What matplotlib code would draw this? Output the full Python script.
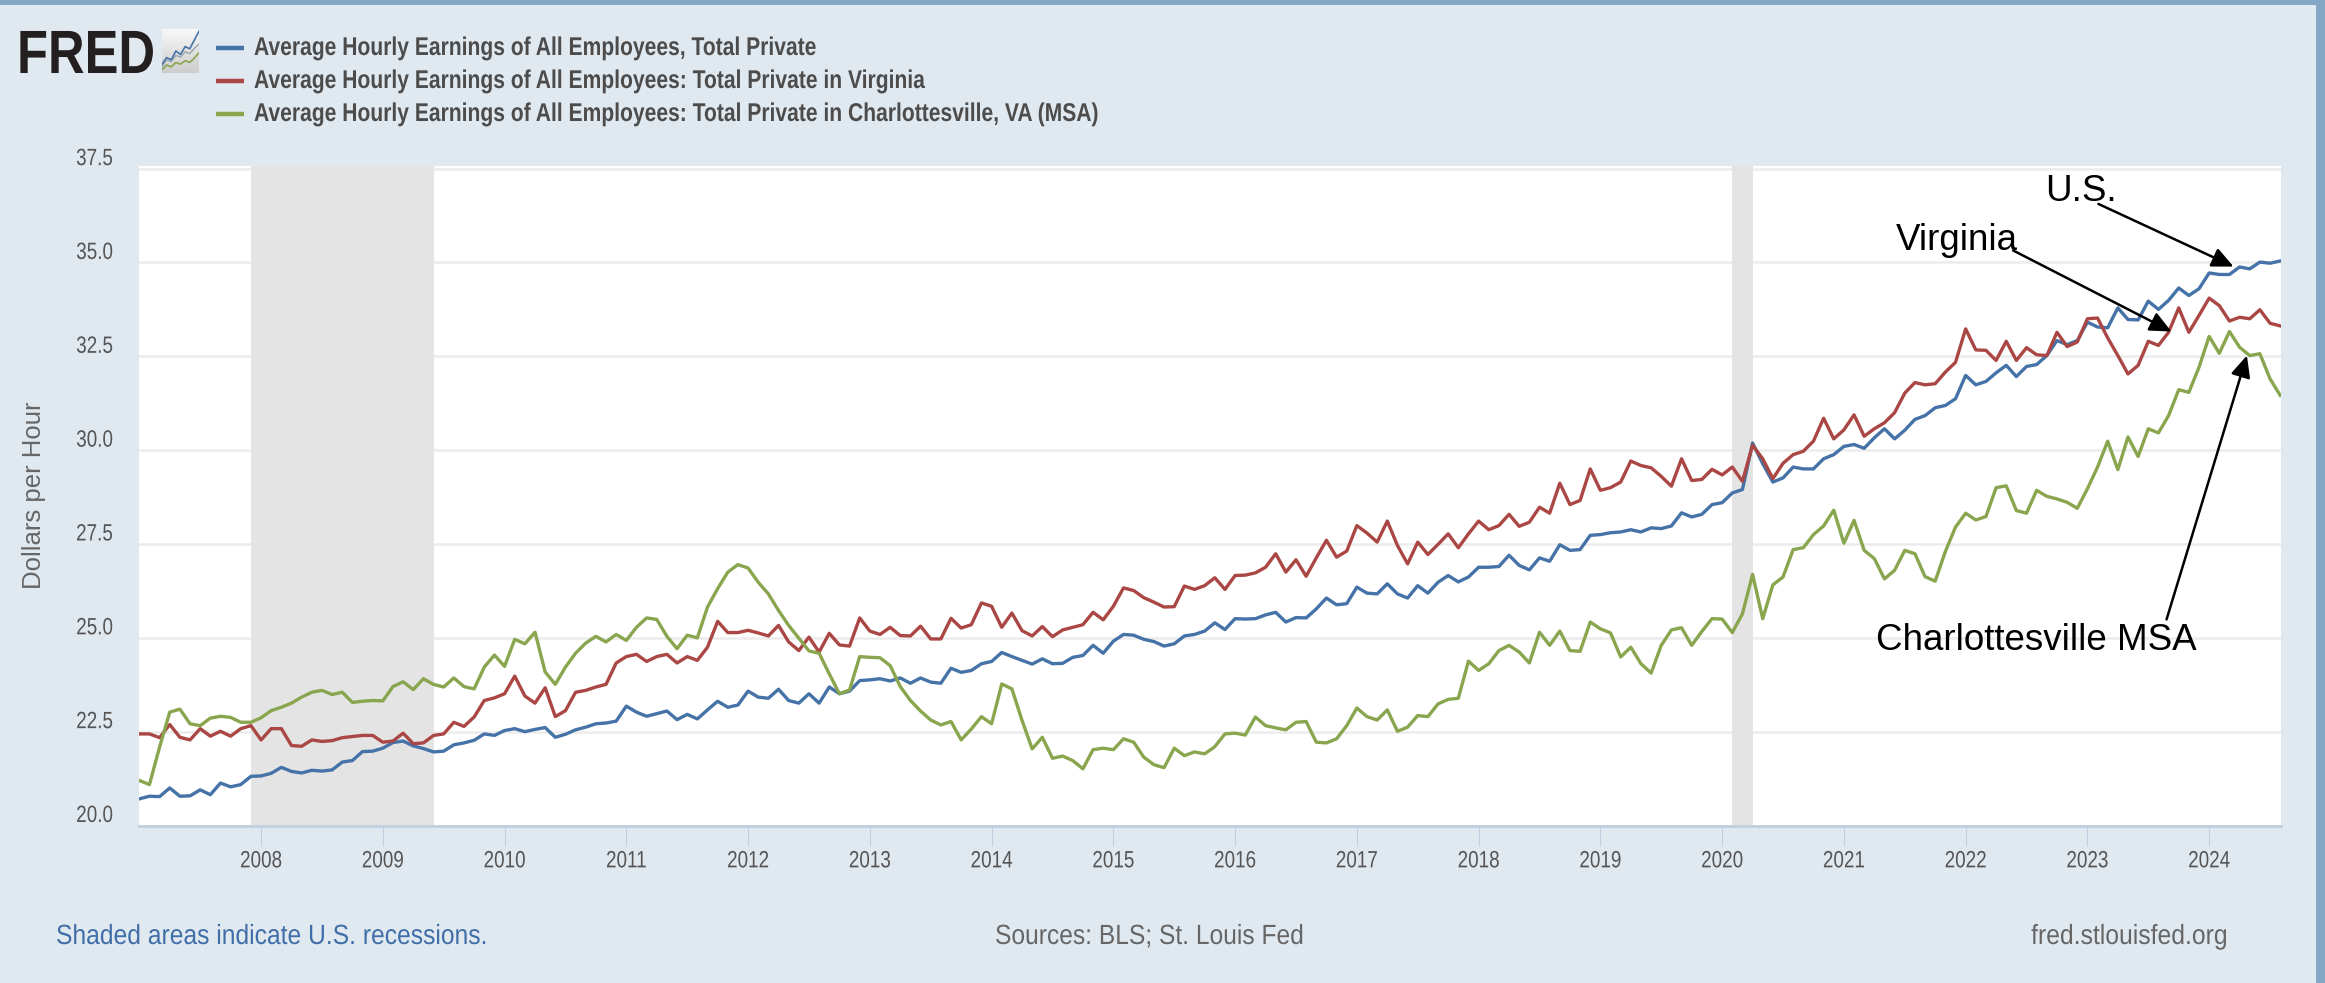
"""FRED chart: average hourly earnings, U.S. / Virginia / Charlottesville MSA."""

import numpy as np
import matplotlib
matplotlib.use("Agg")
import matplotlib.pyplot as plt
import matplotlib.patches as mpatches
from matplotlib.patheffects import AbstractPathEffect
from matplotlib.transforms import Affine2D, ScaledTranslation

# ── Data ──────────────────────────────────────────────────────────────────────
us_total = [
    20.71, 20.78, 20.77, 21.0, 20.78, 20.79, 20.95, 20.82, 21.13, 21.03, 21.09, 21.31,
    21.32, 21.39, 21.55, 21.44, 21.4, 21.47, 21.45, 21.48, 21.69, 21.73, 21.97, 21.98,
    22.06, 22.21, 22.25, 22.12, 22.05, 21.96, 21.98, 22.15, 22.2, 22.27, 22.44, 22.4,
    22.53, 22.58, 22.5, 22.56, 22.61, 22.35, 22.43, 22.55, 22.62, 22.71, 22.73, 22.78,
    23.18, 23.02, 22.91, 22.98, 23.05, 22.82, 22.96, 22.84, 23.08, 23.31, 23.15, 23.21,
    23.58, 23.42, 23.39, 23.63, 23.33, 23.26, 23.51, 23.26, 23.69, 23.51, 23.58, 23.86,
    23.88, 23.91, 23.85, 23.93, 23.79, 23.93, 23.82, 23.79, 24.19, 24.08, 24.13, 24.31,
    24.37, 24.61, 24.5, 24.4, 24.3, 24.44, 24.31, 24.32, 24.48, 24.53, 24.8, 24.59,
    24.91, 25.09, 25.07, 24.96, 24.9, 24.78, 24.84, 25.05, 25.09, 25.18, 25.4, 25.22,
    25.51, 25.5, 25.51, 25.61, 25.68, 25.42, 25.54, 25.53, 25.77, 26.06, 25.88, 25.91,
    26.35, 26.19, 26.17, 26.44, 26.17, 26.06, 26.39, 26.19, 26.48, 26.66, 26.49, 26.62,
    26.88, 26.88, 26.9, 27.2, 26.93, 26.81, 27.13, 27.04, 27.48, 27.33, 27.35, 27.73,
    27.75, 27.8, 27.82, 27.88, 27.82, 27.93, 27.91, 27.98, 28.33, 28.22, 28.29, 28.55,
    28.6, 28.86, 28.95, 30.19, 29.64, 29.15, 29.26, 29.55, 29.5, 29.5, 29.77, 29.88,
    30.1, 30.15, 30.05, 30.33, 30.57, 30.3, 30.53, 30.82, 30.92, 31.13, 31.19, 31.37,
    31.99, 31.74, 31.83, 32.06, 32.26, 31.96, 32.23, 32.28, 32.52, 32.92, 32.81, 32.92,
    33.41, 33.28, 33.26, 33.79, 33.48, 33.47, 33.97, 33.75, 33.99, 34.32, 34.12, 34.3,
    34.72, 34.68, 34.68, 34.88, 34.83, 35.01, 34.98, 35.04,
]
virginia = [
    22.44, 22.44, 22.34, 22.69, 22.35, 22.28, 22.58, 22.38, 22.51, 22.38, 22.58, 22.66,
    22.28, 22.58, 22.58, 22.13, 22.11, 22.28, 22.24, 22.26, 22.34, 22.37, 22.4, 22.4,
    22.22, 22.25, 22.46, 22.18, 22.2, 22.4, 22.44, 22.75, 22.64, 22.89, 23.33, 23.4,
    23.51, 23.98, 23.45, 23.26, 23.67, 22.9, 23.06, 23.55, 23.6, 23.69, 23.76, 24.33,
    24.5, 24.56, 24.37, 24.5, 24.56, 24.33, 24.5, 24.4, 24.75, 25.44, 25.14, 25.14,
    25.2, 25.13, 25.05, 25.33, 24.89, 24.66, 25.02, 24.62, 25.12, 24.81, 24.78, 25.53,
    25.18, 25.09, 25.28, 25.06, 25.05, 25.31, 24.97, 24.97, 25.52, 25.26, 25.35, 25.93,
    25.84, 25.28, 25.66, 25.19, 25.05, 25.3, 25.03, 25.21, 25.28, 25.35, 25.68, 25.48,
    25.84, 26.33, 26.26, 26.07, 25.95, 25.82, 25.83, 26.38, 26.29, 26.39, 26.6, 26.29,
    26.66, 26.67, 26.73, 26.88, 27.24, 26.75, 27.08, 26.64, 27.13, 27.6, 27.15, 27.31,
    27.99, 27.79, 27.55, 28.11, 27.46, 26.97, 27.55, 27.22, 27.49, 27.77, 27.4, 27.77,
    28.11, 27.88, 27.99, 28.29, 27.97, 28.08, 28.48, 28.32, 29.12, 28.55, 28.66, 29.5,
    28.93, 29.0, 29.15, 29.71, 29.59, 29.53, 29.3, 29.04, 29.77, 29.19, 29.22, 29.49,
    29.34, 29.55, 29.17, 30.13, 29.77, 29.24, 29.65, 29.88, 29.97, 30.24, 30.85, 30.3,
    30.54, 30.94, 30.37, 30.57, 30.73, 31.0, 31.52, 31.8, 31.74, 31.77, 32.08, 32.34,
    33.23, 32.67, 32.66, 32.39, 32.9, 32.39, 32.73, 32.54, 32.52, 33.14, 32.76, 32.88,
    33.5, 33.52, 32.99, 32.52, 32.03, 32.26, 32.9, 32.79, 33.14, 33.79, 33.14, 33.59,
    34.05, 33.85, 33.44, 33.54, 33.5, 33.74, 33.38, 33.31,
]
charlottesville = [
    21.2, 21.09, 22.09, 23.02, 23.1, 22.71, 22.66, 22.86, 22.91, 22.88, 22.75, 22.75,
    22.87, 23.06, 23.15, 23.26, 23.42, 23.55, 23.6, 23.49, 23.55, 23.28, 23.31, 23.33,
    23.32, 23.7, 23.83, 23.62, 23.91, 23.76, 23.69, 23.93, 23.7, 23.64, 24.22, 24.54,
    24.24, 24.96, 24.84, 25.15, 24.09, 23.76, 24.22, 24.59, 24.86, 25.04, 24.89, 25.09,
    24.93, 25.28, 25.53, 25.49, 25.04, 24.71, 25.07, 25.0, 25.82, 26.31, 26.75, 26.95,
    26.86, 26.48, 26.17, 25.73, 25.33, 24.99, 24.65, 24.59, 24.04, 23.51, 23.61, 24.5,
    24.48, 24.47, 24.26, 23.7, 23.33, 23.05, 22.81, 22.68, 22.77, 22.28, 22.57, 22.9,
    22.71, 23.77, 23.64, 22.8, 22.04, 22.35, 21.79, 21.85, 21.73, 21.51, 22.02, 22.06,
    22.02, 22.31, 22.22, 21.82, 21.62, 21.54, 22.06, 21.86, 21.96, 21.91, 22.1, 22.44,
    22.46, 22.41, 22.89, 22.66, 22.6, 22.55, 22.75, 22.77, 22.22, 22.2, 22.31, 22.66,
    23.13, 22.9, 22.81, 23.08, 22.51, 22.62, 22.93, 22.9, 23.24, 23.36, 23.39, 24.38,
    24.13, 24.31, 24.66, 24.8, 24.62, 24.33, 25.15, 24.8, 25.18, 24.66, 24.64, 25.42,
    25.24, 25.13, 24.49, 24.75, 24.31, 24.06, 24.8, 25.21, 25.27, 24.8, 25.17, 25.51,
    25.5, 25.14, 25.64, 26.69, 25.51, 26.41, 26.62, 27.35, 27.4, 27.75, 27.98, 28.4,
    27.52, 28.13, 27.33, 27.11, 26.57, 26.8, 27.33, 27.24, 26.63, 26.51, 27.3, 27.95,
    28.32, 28.14, 28.23, 29.0, 29.05, 28.39, 28.32, 28.93, 28.77, 28.7, 28.61, 28.45,
    28.97, 29.55, 30.24, 29.48, 30.35, 29.83, 30.57, 30.46, 30.92, 31.61, 31.54, 32.21,
    33.03, 32.58, 33.16, 32.74, 32.52, 32.57, 31.9, 31.46,
]
legend_labels = [
    "Average Hourly Earnings of All Employees, Total Private",
    "Average Hourly Earnings of All Employees: Total Private in Virginia",
    "Average Hourly Earnings of All Employees: Total Private in Charlottesville, VA (MSA)",
]
recessions = [(2007.92, 2009.42), (2020.08, 2020.25)]
year_ticks = list(range(2008, 2025))
dollar_ticks = [20.0, 22.5, 25.0, 27.5, 30.0, 32.5, 35.0, 37.5]

# callouts: text, text position, arrow start, arrow tip (year, dollars)
callouts = [
    ("U.S.", (2022.65, 36.63), (2023.09, 36.56), (2024.20, 34.89)),
    ("Virginia", (2021.43, 35.34), (2022.39, 35.32), (2023.69, 33.16)),
    ("Charlottesville MSA", (2021.26, 24.67), (2023.65, 25.49), (2024.31, 32.52)),
]

# mini chart in the FRED logo
logo_blue = [2, 3.5, 3, 5, 4.2, 6, 5.5, 7.5, 9.5]
logo_gray = [1.5, 3, 2.6, 4, 3.6, 4.8, 4.4, 5.6, 6.6]
logo_green = [0.8, 1.8, 1.4, 2.4, 2, 2.8, 2.4, 3.4, 4.6]

# ── Palette ───────────────────────────────────────────────────────────────────
PAGE = "#e1e9f0"
EDGE = "#85a7c6"
GRID = "#ececec"
BAND = "#e4e4e4"
AXIS = "#c0d0e0"
BLUE = "#4572a7"
RED = "#aa4643"
GREEN = "#89a54e"
TEXT = "#555555"
W, H = 2325, 983

plt.rcParams["font.family"] = ["Liberation Sans", "DejaVu Sans"]

fig = plt.figure(figsize=(W / 100, H / 100), dpi=100, facecolor=PAGE)


class Squeeze(AbstractPathEffect):
    """Narrow a text horizontally about its anchor; no narrow font is installed."""

    def __init__(self, text, factor):
        super().__init__()
        self.text = text
        self.factor = factor

    def draw_path(self, renderer, gc, tpath, affine, rgbFace=None):
        anchor = self.text.get_transform().transform(self.text.get_position())[0]
        squeeze = Affine2D().translate(-anchor, 0).scale(self.factor, 1).translate(anchor, 0)
        renderer.draw_path(gc, tpath, affine + squeeze, rgbFace)


def narrow(text, factor):
    text.set_path_effects([Squeeze(text, factor)])
    return text


def page_text(x, y, s, **kw):
    """Text placed in page pixels (origin top left)."""
    return fig.text(x / W, 1 - y / H, s, **kw)


# ── Frame strips ──────────────────────────────────────────────────────────────
fig.add_artist(mpatches.Rectangle((0, 1 - 5 / H), 1, 5 / H, transform=fig.transFigure,
                                  facecolor=EDGE, edgecolor="none"))
fig.add_artist(mpatches.Rectangle((2316 / W, 0), 9 / W, 1, transform=fig.transFigure,
                                  facecolor=EDGE, edgecolor="none"))

# ── Main plot ─────────────────────────────────────────────────────────────────
ax = fig.add_axes([139.3 / W, 1 - 825.5 / H, (2281 - 139.3) / W, (825.5 - 166) / H],
                  facecolor="white")
x = 2007 + np.arange(len(us_total)) / 12

for x0, x1 in recessions:
    ax.axvspan(x0, x1, facecolor=BAND, edgecolor="none", zorder=1.5)
for values, color in [(us_total, BLUE), (virginia, RED), (charlottesville, GREEN)]:
    ax.plot(x, values, color=color, linewidth=2.4, solid_joinstyle="round", zorder=3)

ax.set_xlim(2007, 2024.59)
ax.set_ylim(20, 37.57)
ax.set_xticks(year_ticks)
ax.set_xticklabels([str(y) for y in year_ticks], fontsize=17, color=TEXT)
ax.set_yticks(dollar_ticks)
ax.set_yticklabels([f"{v:.1f}" for v in dollar_ticks], fontsize=17, color=TEXT)
ax.tick_params(axis="x", length=14.4, width=0.8, color=AXIS, pad=3.5)
ax.tick_params(axis="y", length=0, pad=19)
ax.grid(True, axis="y", color=GRID, linewidth=1.8, zorder=1)
ax.set_axisbelow(True)
for side in ("top", "right", "left"):
    ax.spines[side].set_visible(False)
ax.spines["bottom"].set_color(AXIS)
ax.spines["bottom"].set_linewidth(2)

# y labels sit just above their gridlines
raise_labels = ScaledTranslation(0, 12 / 100, fig.dpi_scale_trans)
for label in ax.get_yticklabels():
    label.set_transform(label.get_transform() + raise_labels)
    narrow(label, 0.8)
for label in ax.get_xticklabels():
    narrow(label, 0.8)

page_text(34, 495, "Dollars per Hour", rotation=90, ha="center", va="center",
          fontsize=18.5, color="#666666")

# ── Callouts ──────────────────────────────────────────────────────────────────
for text, text_xy, start, tip in callouts:
    ax.text(text_xy[0], text_xy[1], text, fontsize=26.5, color="black",
            va="baseline", ha="left", zorder=6)
    ax.annotate("", xy=tip, xytext=start, zorder=5,
                arrowprops=dict(arrowstyle="-|>,head_length=1.3,head_width=0.6",
                                mutation_scale=10, color="black", linewidth=1.8,
                                shrinkA=0, shrinkB=0))

# ── Header ────────────────────────────────────────────────────────────────────
narrow(page_text(17, 73, "FRED", fontsize=44, fontweight="bold", color="#231f20",
                 ha="left", va="baseline"), 0.83)

logo = fig.add_axes([162 / W, 1 - 73 / H, 37 / W, 44 / H])
logo.imshow(np.linspace(0.97, 0.8, 32).reshape(-1, 1), cmap="gray", vmin=0, vmax=1,
            aspect="auto", extent=(0, 8, 0, 10))
logo.plot(logo_gray, color="#9aa5ad", linewidth=1)
logo.plot(logo_blue, color=BLUE, linewidth=1.2)
logo.plot(logo_green, color=GREEN, linewidth=1.2)
logo.set_xlim(0, 8)
logo.set_ylim(0, 10)
logo.axis("off")

for label, color, y in zip(legend_labels, [BLUE, RED, GREEN], [48, 81, 114]):
    fig.add_artist(plt.Line2D([216 / W, 244 / W], [1 - y / H, 1 - y / H], color=color,
                              linewidth=3.2, solid_capstyle="butt"))
    narrow(page_text(254, y, label, fontsize=18.5, fontweight="bold", color="#4c4c4c",
                     ha="left", va="center"), 0.82)

# ── Footer ────────────────────────────────────────────────────────────────────
narrow(page_text(56, 937, "Shaded areas indicate U.S. recessions.", fontsize=20,
                 color="#3f6ea8", ha="left", va="center"), 0.887)
narrow(page_text(995, 937, "Sources: BLS; St. Louis Fed", fontsize=20, color="#666666",
                 ha="left", va="center"), 0.885)
narrow(page_text(2227, 937, "fred.stlouisfed.org", fontsize=20, color="#666666",
                 ha="right", va="center"), 0.89)

fig.savefig("out.png", dpi=100, facecolor=PAGE)
